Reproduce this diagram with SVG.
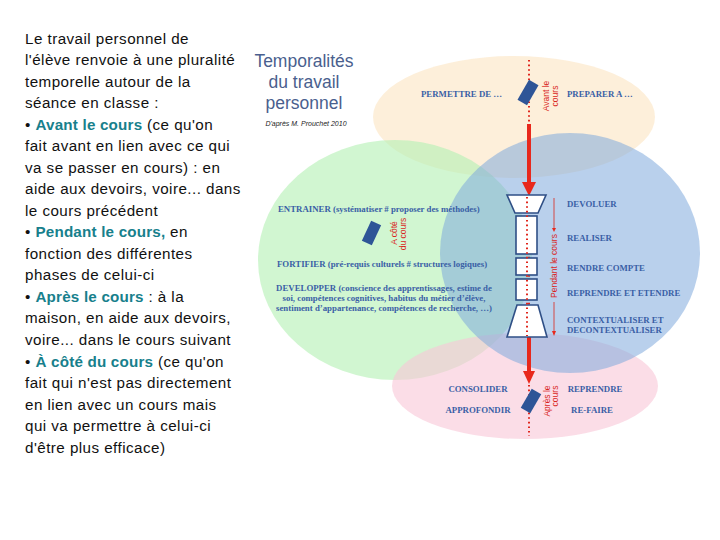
<svg xmlns="http://www.w3.org/2000/svg" width="720" height="540" viewBox="0 0 720 540">
<style>
.body{font-family:"Liberation Sans",Arial,sans-serif;font-size:15.2px;letter-spacing:0.45px;fill:#111}
.hl{font-weight:bold;fill:#17808c;letter-spacing:0.2px}
.lab{font-family:"Liberation Serif","Times New Roman",serif;font-size:8.8px;font-weight:bold;fill:#3a5fa6}
.ttl{font-family:"Liberation Sans",Arial,sans-serif;font-size:17.5px;fill:#4a5f8e;text-anchor:middle}
.rot{font-family:"Liberation Sans",Arial,sans-serif;font-size:8.5px;fill:#d9261c;text-anchor:middle}
.dot{stroke:#e0261c;stroke-width:2;stroke-dasharray:1.6 3;fill:none}
.shaft{stroke:#e8281c;stroke-width:4;fill:none}
.head{fill:#e8281c}
.tag{fill:#2e5597}
.fun{fill:#fff;stroke:#2f4f86;stroke-width:1.6}
</style>
<rect width="720" height="540" fill="#fff"/>
<g id="intro" class="body">
<text x="25" y="44">Le travail personnel de</text>
<text x="25" y="65">l'élève renvoie à une pluralité</text>
<text x="25" y="87">temporelle autour de la</text>
<text x="25" y="108">séance en classe :</text>
<text x="25" y="130">• <tspan class="hl">Avant le cours</tspan>  (ce qu'on</text>
<text x="25" y="151">fait avant en lien avec ce qui</text>
<text x="25" y="173">va se passer en cours) : en</text>
<text x="25" y="194">aide aux devoirs, voire... dans</text>
<text x="25" y="216">le cours précédent</text>
<text x="25" y="237">• <tspan class="hl">Pendant le cours,</tspan>  en</text>
<text x="25" y="259">fonction des différentes</text>
<text x="25" y="280">phases de celui-ci</text>
<text x="25" y="302">• <tspan class="hl">Après le cours</tspan>  : à la</text>
<text x="25" y="323">maison, en aide aux devoirs,</text>
<text x="25" y="345">voire... dans le cours suivant</text>
<text x="25" y="367">• <tspan class="hl">À côté du cours</tspan>  (ce qu'on</text>
<text x="25" y="388">fait qui n'est pas directement</text>
<text x="25" y="410">en lien avec un  cours mais</text>
<text x="25" y="431">qui va permettre à celui-ci</text>
<text x="25" y="453">d'être plus efficace)</text>
</g>
<g id="title">
<text class="ttl" x="304" y="67">Temporalités</text>
<text class="ttl" x="304" y="88">du travail</text>
<text class="ttl" x="304" y="109">personnel</text>
<text x="306" y="126" style="font-family:'Liberation Sans',Arial,sans-serif;font-size:7px;font-style:italic;fill:#222;text-anchor:middle">D'après M. Prouchet 2010</text>
</g>
<g id="zones">
<ellipse id="avant" cx="514" cy="117" rx="141" ry="61" fill="#fce3bf" opacity="0.58"/>
<ellipse id="cote" cx="395" cy="260" rx="137" ry="120" fill="#b5f0b5" opacity="0.62"/>
<ellipse id="apres" cx="525" cy="386" rx="133" ry="53" fill="#f9c6d7" opacity="0.6"/>
<ellipse id="pendant" cx="570" cy="253" rx="130" ry="120" fill="#7fa9dc" opacity="0.55"/>
</g>
<g id="connectors">
<line class="dot" x1="529" y1="60" x2="529" y2="124"/>
<line class="shaft" x1="529" y1="124" x2="529" y2="184"/>
<polygon class="head" points="522,182 536,182 529,196"/>
<line class="dot" x1="529" y1="197" x2="529" y2="336"/>
<line class="shaft" x1="529" y1="334" x2="529" y2="373"/>
<polygon class="head" points="523,371 535,371 529,384"/>
<line class="dot" x1="529" y1="385" x2="529" y2="436"/>
<line x1="554" y1="198" x2="554" y2="230" stroke="#d9261c" stroke-width="0.8"/>
<polygon class="head" points="552,228 556,228 554,232"/>
<line x1="554" y1="302" x2="554" y2="333" stroke="#d9261c" stroke-width="0.8"/>
<polygon class="head" points="552,331 556,331 554,336"/>
</g>
<g id="funnel">
<polygon class="fun" points="507,195 546,195 538,213 515,213"/>
<rect class="fun" x="516" y="216" width="21" height="38"/>
<rect class="fun" x="516" y="258" width="21" height="17"/>
<rect class="fun" x="516" y="279" width="21" height="21"/>
<polygon class="fun" points="517,305 538,305 547,337 507,337"/>
<line class="dot" x1="527" y1="197" x2="527" y2="336"/>
</g>
<g id="node-avant">
<rect class="tag" x="522.5" y="81" width="11" height="23" transform="rotate(30 528 92.5)"/>
<text class="rot" transform="translate(549 96) rotate(-90)">Avant le</text>
<text class="rot" transform="translate(558 96) rotate(-90)">cours</text>
<text class="lab" x="421" y="97">PERMETTRE DE …</text>
<text class="lab" x="567" y="97">PREPARER A …</text>
</g>
<g id="node-cote">
<rect class="tag" x="366" y="222" width="11" height="22" transform="rotate(25 371.5 233)"/>
<text class="rot" transform="translate(397 233) rotate(-90)">A côté</text>
<text class="rot" transform="translate(406 234) rotate(-90)">du cours</text>
<text class="lab" x="278" y="212">ENTRAINER (systématiser # proposer des méthodes)</text>
<text class="lab" x="277" y="267">FORTIFIER (pré-requis culturels # structures logiques)</text>
<text class="lab" x="384" y="291" text-anchor="middle">DEVELOPPER (conscience des apprentissages, estime de</text>
<text class="lab" x="384" y="301" text-anchor="middle">soi, compétences cognitives, habitus du métier d’élève,</text>
<text class="lab" x="384" y="311" text-anchor="middle">sentiment d’appartenance, compétences de recherche, …)</text>
</g>
<g id="node-pendant">
<text class="rot" transform="translate(557 266) rotate(-90)">Pendant le cours</text>
<text class="lab" x="567" y="207">DEVOLUER</text>
<text class="lab" x="567" y="241">REALISER</text>
<text class="lab" x="567" y="271">RENDRE COMPTE</text>
<text class="lab" x="567" y="296">REPRENDRE ET ETENDRE</text>
<text class="lab" x="567" y="323">CONTEXTUALISER ET</text>
<text class="lab" x="567" y="333">DECONTEXTUALISER</text>
</g>
<g id="node-apres">
<rect class="tag" x="525.5" y="390" width="11" height="22" transform="rotate(30 531 401)"/>
<text class="rot" transform="translate(550 401) rotate(-90)">Après le</text>
<text class="rot" transform="translate(558 396) rotate(-90)">cours</text>
<text class="lab" x="478" y="392" text-anchor="middle">CONSOLIDER</text>
<text class="lab" x="478" y="413" text-anchor="middle">APPROFONDIR</text>
<text class="lab" x="595" y="392" text-anchor="middle">REPRENDRE</text>
<text class="lab" x="592" y="413" text-anchor="middle">RE-FAIRE</text>
</g>
</svg>
